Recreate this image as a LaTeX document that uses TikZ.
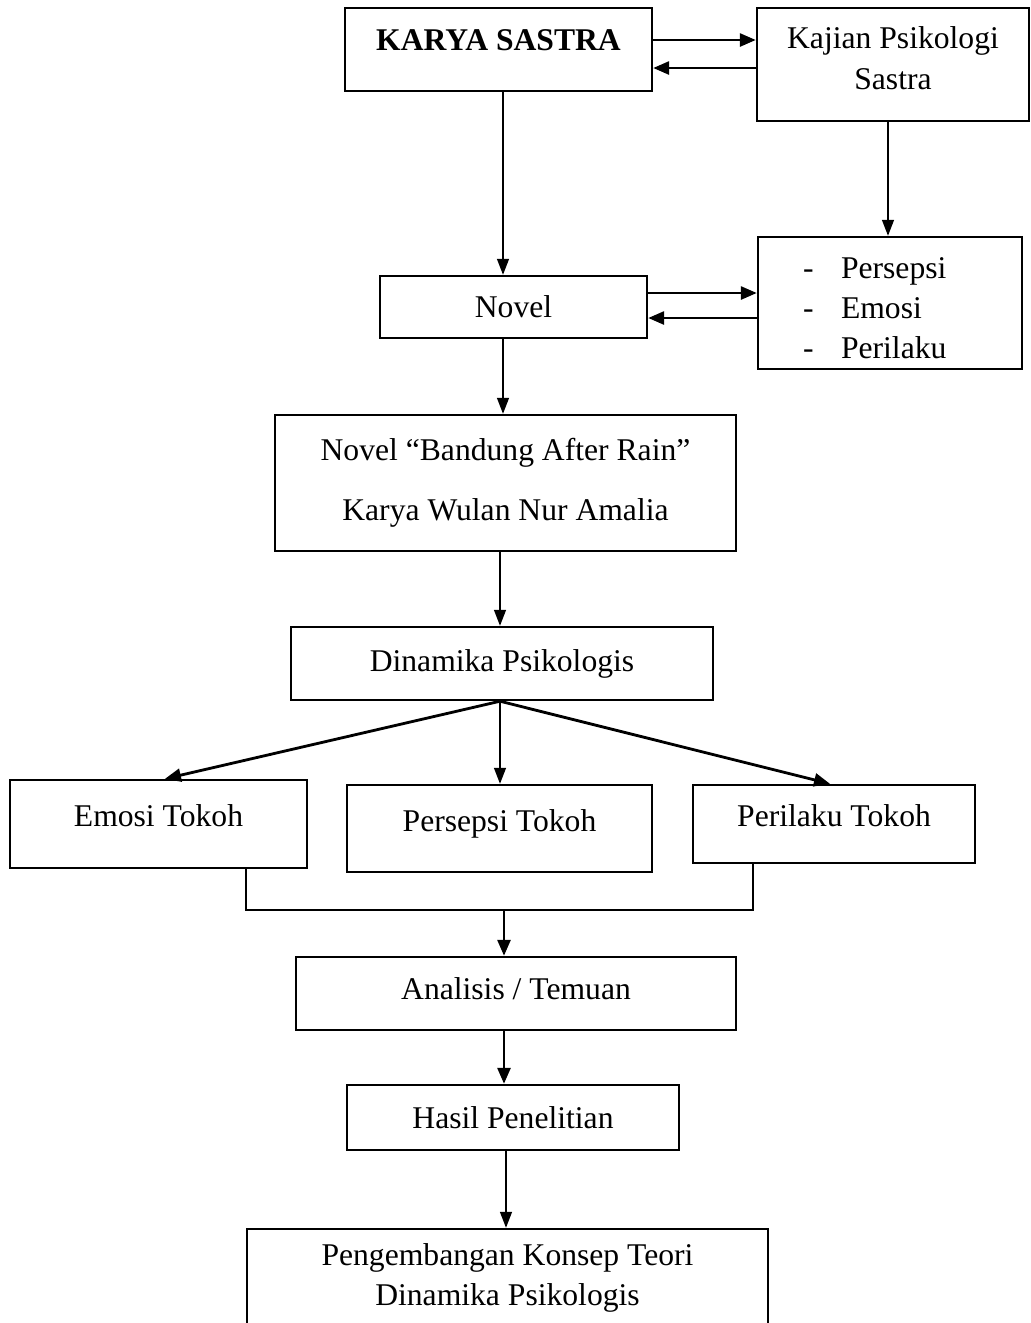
\documentclass[tikz,border=0pt]{standalone}
\usepackage{fontspec}
\setmainfont{Liberation Serif}
\usetikzlibrary{arrows.meta}

\begin{document}
\begin{tikzpicture}[x=0.02cm, y=-0.02cm,
    box/.style={draw, line width=1.4pt, inner sep=0pt, align=center, font=\fontsize{18}{23}\selectfont},
    link/.style={line width=0.8pt},
    arr/.style={link, -{Triangle[length=0.32cm, width=0.24cm]}},
    boldarr/.style={line width=1.6pt, -{Triangle[length=0.32cm, width=0.26cm]}}]

    \useasboundingbox (0,0) rectangle (1031,1323);

    % top row
    \node[box, minimum width=6.14cm, text height=0.84cm, text depth=0.82cm, font=\fontsize{18}{23}\selectfont\bfseries] (karya) at (498.5,49.5) {KARYA SASTRA};
    \node[box, minimum width=5.44cm, text height=1.62cm, text depth=0.64cm] (kajian) at (893,64.5) {Kajian Psikologi\\Sastra};
    \draw[boldarr] (karya.east |- 0,40) -- (kajian.west |- 0,40);
    \draw[boldarr] (kajian.west |- 0,68) -- (karya.east |- 0,68);

    % novel and aspects
    \node[box, minimum width=5.34cm, minimum height=1.24cm] (novel) at (513.5,307) {Novel};
    \node[box, text width=3.48cm, inner xsep=0.9cm, text height=0.82cm, text depth=1.82cm, align=left] (aspek) at (890,303) {-\hspace{0.55cm}Persepsi\\-\hspace{0.55cm}Emosi\\-\hspace{0.55cm}Perilaku};
    \draw[arr] (karya.south -| 503,0) -- (novel.north -| 503,0);
    \draw[arr] (kajian.south -| 888,0) -- (aspek.north -| 888,0);
    \draw[boldarr] (novel.east |- 0,293) -- (aspek.west |- 0,293);
    \draw[boldarr] (aspek.west |- 0,318) -- (novel.east |- 0,318);

    % object of study
    \node[box, minimum width=9.22cm, minimum height=2.72cm, font=\fontsize{18}{34}\selectfont] (bandung) at (505.5,483) {Novel “Bandung After Rain”\\Karya Wulan Nur Amalia};
    \node[box, minimum width=8.44cm, minimum height=1.46cm] (dinamika) at (502,663.5) {Dinamika Psikologis};
    \draw[arr] (novel.south -| 503,0) -- (bandung.north -| 503,0);
    \draw[arr] (bandung.south -| 500,0) -- (dinamika.north -| 500,0);

    % three aspects of the characters
    \node[box, minimum width=5.94cm, text height=0.92cm, text depth=0.84cm] (emosi) at (158.5,824) {Emosi Tokoh};
    \node[box, minimum width=6.1cm, text height=0.92cm, text depth=0.82cm] (persepsi) at (499.5,828.5) {Persepsi Tokoh};
    \node[box, minimum width=5.64cm, text height=0.82cm, text depth=0.74cm] (perilaku) at (834,824) {Perilaku Tokoh};
    \draw[boldarr] (dinamika.south -| 500,0) -- (emosi.north -| 165,0);
    \draw[arr] (dinamika.south -| 500,0) -- (persepsi.north -| 500,0);
    \draw[boldarr] (dinamika.south -| 500,0) -- (perilaku.north -| 830,0);

    % merge
    \coordinate (gabung) at (504,910);
    \draw[line width=1.2pt] (emosi.south -| 246,0) -- (246,910) -- (753,910) -- (perilaku.south -| 753,0);

    % results
    \node[box, minimum width=8.8cm, text height=0.84cm, text depth=0.62cm] (analisis) at (516,993.5) {Analisis / Temuan};
    \node[box, minimum width=6.64cm, minimum height=1.3cm] (hasil) at (513,1117.5) {Hasil Penelitian};
    \node[box, minimum width=10.42cm, minimum height=1.96cm] (konsep) at (507.5,1278) {Pengembangan Konsep Teori\\Dinamika Psikologis};
    \draw[boldarr] (gabung) -- (analisis.north -| gabung);
    \draw[boldarr] (analisis.south -| gabung) -- (hasil.north -| gabung);
    \draw[arr] (hasil.south -| 506,0) -- (konsep.north -| 506,0);

\end{tikzpicture}
\end{document}
